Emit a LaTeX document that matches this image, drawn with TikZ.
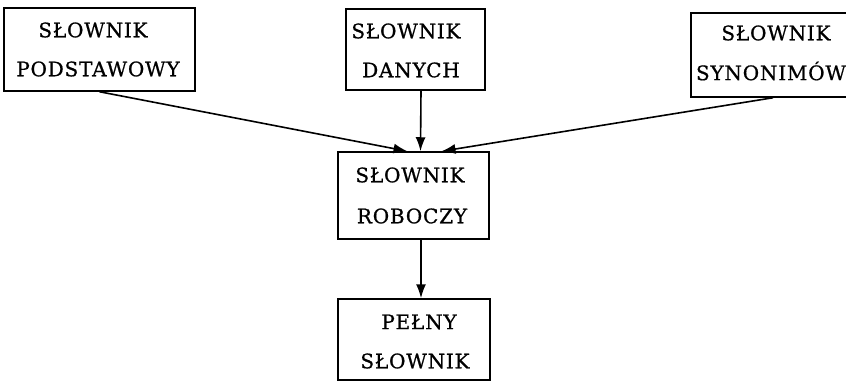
\documentclass[tikz,border=0pt]{standalone}
\usepackage{fontspec}
\setmainfont{DejaVu Serif}[LetterSpace=4,FakeBold=0.8]
\usetikzlibrary{arrows.meta}
\begin{document}
\begin{tikzpicture}[x=1pt,y=-1pt,
  box/.style={draw=black, line width=1.5pt, rectangle, inner sep=0pt},
  lbl/.style={font=\fontsize{20}{20}\selectfont, inner sep=0pt, anchor=center},
  flow/.style={draw=black, line width=1.6pt, -{Latex[length=14pt,width=10pt]}}]
\useasboundingbox (0,0) rectangle (846,382);
\clip (0,0) rectangle (846,382);
% dictionary boxes
\node[box, minimum width=191pt, minimum height=83pt] (podst) at (99.5,49.5) {};
\node[box, minimum width=139pt, minimum height=81pt] (danych) at (415.5,49.5) {};
\node[box, minimum width=162pt, minimum height=84pt] (syno) at (772,55) {};
\node[box, minimum width=151pt, minimum height=87pt] (robo) at (413.5,195.5) {};
\node[box, minimum width=152pt, minimum height=81pt] (pelny) at (414,339.5) {};
% labels
\node[lbl] (t1a) at (93,30) {SŁOWNIK};
\node[lbl] (t1b) at (98,69) {PODSTAWOWY};
\node[lbl] (t2a) at (406,31) {SŁOWNIK};
\node[lbl] (t2b) at (411,70) {DANYCH};
\node[lbl] (t3a) at (776,33) {SŁOWNIK};
\node[lbl] (t3b) at (771,71) {SYNONIMÓW};
\node[lbl] (t4a) at (410,175) {SŁOWNIK};
\node[lbl] (t4b) at (412,216) {ROBOCZY};
\node[lbl] (t5a) at (419,322) {PEŁNY};
\node[lbl] (t5b) at (415,361) {SŁOWNIK};
% connectors
\draw[flow] (podst.south) -- ([xshift=-6pt]robo.north);
\draw[flow] ([xshift=5.5pt]danych.south) -- ([xshift=7pt]robo.north);
\draw[flow] ([xshift=1pt]syno.south) -- ([xshift=28pt]robo.north);
\draw[flow] ([xshift=7.5pt]robo.south) -- ([xshift=7pt]pelny.north);
\end{tikzpicture}
\end{document}
